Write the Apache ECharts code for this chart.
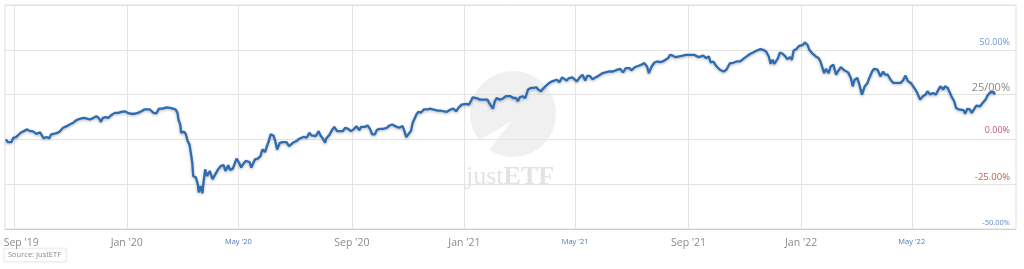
<!DOCTYPE html>
<html>
<head>
<meta charset="utf-8">
<script src="https://cdn.jsdelivr.net/npm/echarts@6/dist/echarts.min.js"></script>
<style>
html,body{margin:0;padding:0;background:#fff;}
#chart{width:1024px;height:269px;}
</style>
</head>
<body>
<div id="chart"></div>
<script>
// ---- data (performance in %) ----
const dates = [
"2019-08-23","2019-08-25","2019-08-29","2019-08-31","2019-09-03","2019-09-05","2019-09-08","2019-09-10","2019-09-15","2019-09-18",
"2019-09-21","2019-09-25","2019-09-29","2019-10-01","2019-10-03","2019-10-06","2019-10-09","2019-10-11","2019-10-13","2019-10-17",
"2019-10-20","2019-10-24","2019-10-28","2019-10-31","2019-11-04","2019-11-07","2019-11-11","2019-11-15","2019-11-18","2019-11-22",
"2019-11-26","2019-11-29","2019-12-02","2019-12-04","2019-12-06","2019-12-09","2019-12-12","2019-12-15","2019-12-19","2019-12-23",
"2019-12-26","2019-12-30","2020-01-02","2020-01-06","2020-01-09","2020-01-13","2020-01-17","2020-01-20","2020-01-22","2020-01-26",
"2020-01-28","2020-01-30","2020-01-31","2020-02-02","2020-02-05","2020-02-09","2020-02-13","2020-02-17","2020-02-20","2020-02-23",
"2020-02-25","2020-02-26","2020-02-28","2020-02-29","2020-03-02","2020-03-03","2020-03-05","2020-03-07","2020-03-09","2020-03-11",
"2020-03-12","2020-03-13","2020-03-16","2020-03-18","2020-03-19","2020-03-21","2020-03-23","2020-03-24","2020-03-26","2020-03-28",
"2020-03-31","2020-04-03","2020-04-05","2020-04-09","2020-04-12","2020-04-15","2020-04-17","2020-04-20","2020-04-22","2020-04-25",
"2020-04-29","2020-05-02","2020-05-04","2020-05-06","2020-05-09","2020-05-13","2020-05-15","2020-05-17","2020-05-19","2020-05-22",
"2020-05-25","2020-05-27","2020-05-30","2020-06-01","2020-06-03","2020-06-05","2020-06-08","2020-06-10","2020-06-12","2020-06-15",
"2020-06-18","2020-06-22","2020-06-25","2020-06-29","2020-07-03","2020-07-06","2020-07-08","2020-07-11","2020-07-14","2020-07-17",
"2020-07-19","2020-07-21","2020-07-24","2020-07-27","2020-07-29","2020-07-31","2020-08-03","2020-08-04","2020-08-08","2020-08-11",
"2020-08-13","2020-08-16","2020-08-19","2020-08-22","2020-08-25","2020-08-28","2020-08-31","2020-09-03","2020-09-06","2020-09-09",
"2020-09-11","2020-09-15","2020-09-18","2020-09-21","2020-09-23","2020-09-26","2020-09-28","2020-10-01","2020-10-05","2020-10-09",
"2020-10-12","2020-10-15","2020-10-18","2020-10-20","2020-10-22","2020-10-26","2020-10-28","2020-10-30","2020-11-01","2020-11-04",
"2020-11-06","2020-11-08","2020-11-10","2020-11-12","2020-11-15","2020-11-18","2020-11-22","2020-11-25","2020-11-28","2020-12-03",
"2020-12-06","2020-12-10","2020-12-13","2020-12-17","2020-12-20","2020-12-23","2020-12-26","2020-12-29","2020-12-31","2021-01-03",
"2021-01-06","2021-01-08","2021-01-10","2021-01-14","2021-01-18","2021-01-21","2021-01-26","2021-01-29","2021-02-01","2021-02-03",
"2021-02-05","2021-02-08","2021-02-11","2021-02-15","2021-02-17","2021-02-20","2021-02-23","2021-02-26","2021-02-28","2021-03-02",
"2021-03-05","2021-03-08","2021-03-11","2021-03-14","2021-03-17","2021-03-20","2021-03-22","2021-03-25","2021-03-28","2021-03-31",
"2021-04-03","2021-04-06","2021-04-08","2021-04-11","2021-04-14","2021-04-17","2021-04-19","2021-04-22","2021-04-24","2021-04-28",
"2021-04-30","2021-05-03","2021-05-06","2021-05-09","2021-05-12","2021-05-14","2021-05-17","2021-05-20","2021-05-23","2021-05-26",
"2021-05-28","2021-05-31","2021-06-03","2021-06-07","2021-06-11","2021-06-16","2021-06-19","2021-06-22","2021-06-25","2021-06-29",
"2021-07-01","2021-07-05","2021-07-09","2021-07-12","2021-07-15","2021-07-18","2021-07-20","2021-07-23","2021-07-26","2021-07-29",
"2021-08-01","2021-08-04","2021-08-06","2021-08-10","2021-08-12","2021-08-15","2021-08-18","2021-08-22","2021-08-26","2021-08-29",
"2021-09-02","2021-09-04","2021-09-07","2021-09-09","2021-09-12","2021-09-14","2021-09-17","2021-09-20","2021-09-23","2021-09-25",
"2021-09-28","2021-09-30","2021-10-02","2021-10-05","2021-10-09","2021-10-12","2021-10-16","2021-10-19","2021-10-23","2021-10-27",
"2021-10-30","2021-11-03","2021-11-07","2021-11-10","2021-11-14","2021-11-18","2021-11-21","2021-11-24","2021-11-27","2021-11-29",
"2021-12-01","2021-12-03","2021-12-05","2021-12-07","2021-12-09","2021-12-12","2021-12-15","2021-12-17","2021-12-20","2021-12-22",
"2021-12-24","2021-12-27","2021-12-30","2022-01-03","2022-01-05","2022-01-08","2022-01-10","2022-01-13","2022-01-15","2022-01-17",
"2022-01-20","2022-01-22","2022-01-24","2022-01-26","2022-01-28","2022-01-31","2022-02-02","2022-02-05","2022-02-08","2022-02-10",
"2022-02-13","2022-02-16","2022-02-18","2022-02-21","2022-02-24","2022-02-26","2022-02-28","2022-03-03","2022-03-05","2022-03-08",
"2022-03-09","2022-03-11","2022-03-14","2022-03-16","2022-03-19","2022-03-21","2022-03-25","2022-03-28","2022-03-31","2022-04-02",
"2022-04-05","2022-04-08","2022-04-11","2022-04-13","2022-04-16","2022-04-19","2022-04-22","2022-04-24","2022-04-27","2022-04-30",
"2022-05-02","2022-05-05","2022-05-07","2022-05-10","2022-05-13","2022-05-16","2022-05-18","2022-05-21","2022-05-24","2022-05-27",
"2022-05-29","2022-06-01","2022-06-04","2022-06-06","2022-06-09","2022-06-11","2022-06-13","2022-06-16","2022-06-18","2022-06-21",
"2022-06-23","2022-06-26","2022-06-28","2022-06-30","2022-07-03","2022-07-05","2022-07-07","2022-07-10","2022-07-12","2022-07-14",
"2022-07-17","2022-07-20","2022-07-22","2022-07-25","2022-07-27","2022-07-29","2022-07-30"
];
const values = [
0,-1.5,-1.5,0.9,1.3,1.9,3.7,4.3,5.6,4.6,
4.6,3.1,3.9,3.7,0.6,1.3,0.6,2.8,3.7,3.5,
4.3,6.5,7.4,8.3,9.3,10.6,11.5,12.0,11.7,11.1,
12.0,13.0,11.7,9.8,12.0,12.4,12.0,13.5,14.8,14.8,
15.4,15.7,14.8,14.3,14.3,14.8,15.7,16.7,16.7,16.7,
16.1,14.8,13.9,14.5,17.2,17.2,17.9,17.6,17.2,16.7,
14.8,11.1,8.3,3.7,2.8,4.3,3.0,-0.9,-2.8,-9.3,
-13.0,-20.4,-21.3,-25,-29.6,-26,-30,-25,-16.7,-20.4,
-17.6,-22.2,-22.2,-16.7,-14.8,-14.4,-17.6,-14.4,-17,-16.3,
-10.7,-13.3,-15.7,-13.9,-12,-12.6,-15.7,-16.7,-11.1,-10.7,
-9.3,-5.6,-7,-3.7,-0.9,2.8,2.2,-0.9,-5.6,-1.9,
-1.5,-1.5,-3.7,-1.9,-0.9,0.4,0,1.5,0.9,3.7,
2.2,2.8,1.9,4.6,2.2,0.9,-1.9,0.4,2.8,5.6,
7.0,4.6,4.6,4.6,6.5,5.9,4.6,5.6,7.4,5.2,
7.0,7.0,7.8,5.6,2.8,2.8,5.2,5.9,5.9,6.5,
7.8,8.3,7.4,7.8,6.5,7.4,4.6,1.3,1.1,4.6,
9.3,9.3,13.9,15.4,15.0,16.7,16.7,17.2,16.7,16.1,
16.1,15.7,15.4,16.7,17.2,15.7,17.9,19.4,18.5,19.8,
19.4,21.3,23.5,23.1,22.2,22.2,22.2,19.4,17.2,21.3,
23.1,22.2,22.6,24.1,23.1,24.1,23.1,23.1,21.3,23.5,
24.1,23.1,27.8,28.7,28.7,29.1,27.8,26.9,28.7,30.2,
31.5,32.4,32.4,33.3,32,34.6,35.2,32.8,34.1,34.6,
33.5,32.4,34.6,36.1,32.8,35.4,35.4,33.5,34.6,35.4,
35.2,37,37.4,37.9,37.9,38.9,39.3,37.4,39.8,39.8,
38.5,40.4,41.1,41.7,42.6,40.7,37,40.7,42.9,43.5,
43.1,43.5,44.4,45.4,47.2,46.7,45.9,46.3,46.7,47.2,
47.2,47.8,47.2,47.8,45.9,45.9,46.7,45.4,46.3,42.9,
43.5,41.7,40.4,38.9,37.9,38.9,42.6,42.6,43.5,43.5,
44.8,46.3,47.8,48.5,49.6,50.4,50,49.1,46.3,42.2,
44.4,42.2,42.6,45.4,48.5,47.8,46.3,44.8,45.9,44.4,
49.6,50.4,52.2,52.8,54.1,52.8,50,48.1,48.5,46.3,
45.4,43.5,42.6,37,39.3,37,40.7,41.7,36.1,38,
40.4,38.9,39.3,37.4,34.3,29.6,33.3,34.3,30.9,25,
25,29.6,31.5,34.3,37.9,39.3,38.9,35.2,37.9,36.1,
36.1,33.3,31.5,31.5,31.5,31.5,33.3,35.6,32.4,31.5,
30.6,27.8,25.9,22.2,24.1,25,26.9,25,25.9,25,
26.9,29.6,27.8,29.6,28.7,28.7,24.1,21.3,17.6,16.7,
15.7,16.3,14.4,17,16.7,14.8,13.9,18.9,20,18.5,
20.4,22.2,24.4,26.3,25.9,26.3,25
];
const xTickDates = ["2019-09-01","2020-01-01","2020-05-01","2020-09-01","2021-01-01","2021-05-01","2021-09-01","2022-01-01","2022-05-01"];
const xTickLabels = ["Sep '19","Jan '20","May '20","Sep '20","Jan '21","May '21","Sep '21","Jan '22","May '22"];
const yTickValues = [-50,-25,0,25,50,75];
const yTickLabels = ["-50.00%","-25.00%","0.00%","25/00%","50.00%",""];
const xMin = "2019-08-22", xMax = "2022-08-22";

// dates -> timestamps (UTC) for a numeric date axis
const ts = s => Date.parse(s + "T00:00:00Z");
const xTickTs = xTickDates.map(ts);

const chart = echarts.init(document.getElementById('chart'), null, {renderer:'canvas'});
chart.setOption({
  animation:false,
  backgroundColor:'#fff',
  grid:{left:5,right:8,top:5,bottom:40,show:true,borderColor:'#dedede',borderWidth:1,containLabel:false},
  xAxis:{
    type:'value', min:ts(xMin), max:ts(xMax),
    axisLine:{show:true,onZero:false,lineStyle:{color:'#cfcfcf',width:1}},
    axisTick:{show:false, customValues:xTickTs},
    splitLine:{show:true,lineStyle:{color:'#e4e4e4',width:1}},
    axisLabel:{
      customValues:xTickTs, margin:9, hideOverlap:false, showMinLabel:true, showMaxLabel:true,
      formatter:function(v){
        const i = xTickTs.indexOf(v);
        if(i<0) return '';
        const t = xTickLabels[i];
        if(t.indexOf('May')===0) return '{m|'+t+'}';
        if(i===0) return '{f|'+t+'}';
        return '{a|'+t+'}';
      },
      rich:{
        a:{fontFamily:'Open Sans',fontSize:10.5,color:'#8a8a8a'},
        f:{fontFamily:'Open Sans',fontSize:10.5,color:'#8a8a8a',padding:[0,0,0,14]},
        m:{fontFamily:'Open Sans',fontSize:7.5,color:'#4d78c2',padding:[0,0,3,0]}
      }
    }
  },
  yAxis:{
    type:'value', min:-50, max:75, interval:25, position:'right',
    axisLine:{show:false}, axisTick:{show:false},
    splitLine:{show:true,lineStyle:{color:'#e4e4e4',width:1}},
    axisLabel:{
      inside:true, margin:6, verticalAlign:'bottom',
      formatter:function(v){
        const i = yTickValues.indexOf(v);
        if(i<0 || !yTickLabels[i]) return '';
        const key = ['n50','n25','z','p25','p50'][i];
        return '{'+key+'|'+yTickLabels[i]+'}';
      },
      rich:{
        p50:{fontFamily:'Open Sans',fontSize:9,color:'#6b98d8',padding:[0,0,3,0]},
        p25:{fontFamily:'Open Sans',fontSize:11,color:'#8c8888',padding:[0,0,1,0]},
        z:{fontFamily:'Open Sans',fontSize:9,color:'#c25a7e',padding:[0,0,4,0]},
        n25:{fontFamily:'Open Sans',fontSize:9.5,color:'#b4604c',padding:[0,0,2,0]},
        n50:{fontFamily:'Open Sans',fontSize:7.5,color:'#5a85cc',padding:[0,0,2,0]}
      }
    }
  },
  graphic:[
    {type:'circle', z:-5, silent:true, shape:{cx:513,cy:114,r:43}, style:{fill:'#f0f0f0'}},
    {type:'polygon', z:-4, silent:true, shape:{points:[[464,149],[512,121],[486,154]]}, style:{fill:'#ffffff'}},
    {type:'text', z:-3, silent:true, left:466, top:164, style:{
      text:'{j|just}{e|ETF}',
      rich:{
        j:{fontFamily:'Liberation Serif',fontSize:26,fill:'#e3e3e3',fontWeight:'normal'},
        e:{fontFamily:'Liberation Serif',fontSize:26,fill:'#e3e3e3',fontWeight:'bold'}
      }
    }},
    {type:'rect', silent:true, shape:{x:4,y:248.5,width:62,height:13}, style:{fill:'#fff',stroke:'#f0f0f0',lineWidth:1,shadowBlur:2,shadowColor:'rgba(0,0,0,0.08)'}},
    {type:'text', silent:true, left:8, top:250.5, style:{text:'Source: JustETF', font:'7.5px "Open Sans"', fill:'#8a8a8a'}}
  ],
  series:[{
    type:'line', showSymbol:false, symbol:'none', smooth:false, z:5,
    data: dates.map((d,i)=>[ts(d), values[i]]),
    lineStyle:{color:'#2d6bb3',width:2.3,shadowColor:'rgba(0,0,0,0.3)',shadowBlur:3,shadowOffsetY:1},
    emphasis:{disabled:true}
  }]
});
</script>
</body>
</html>
